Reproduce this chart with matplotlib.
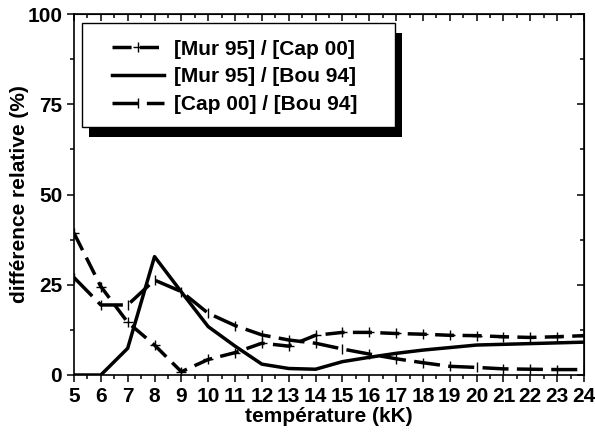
import matplotlib

matplotlib.use("Agg")
import matplotlib.pyplot as plt
import matplotlib.patches as patches
import matplotlib.patheffects as pe
from matplotlib.ticker import MultipleLocator

plt.rcParams["font.family"] = "Liberation Sans"
plt.rcParams["font.weight"] = "bold"
fontsize = 15

# Data
temperature = [5, 6, 7, 8, 9, 10, 11, 12, 13, 14, 15, 16, 17, 18, 19, 20, 21, 22, 23, 24]
mur_cap = [39.3, 24.5, 14.6, 8.3, 0.9, 4.3, 6.2, 8.8, 8.0, 11.0,
           11.8, 11.8, 11.5, 11.3, 11.0, 10.9, 10.6, 10.4, 10.6, 10.9]
mur_bou = [0.0, 0.0, 7.4, 32.8, 23.0, 13.4, 8.0, 3.0, 1.8, 1.6,
           3.7, 4.9, 6.0, 6.9, 7.6, 8.3, 8.5, 8.7, 8.9, 9.1]
cap_bou = [27.0, 19.4, 19.4, 26.3, 23.1, 17.1, 13.7, 11.1, 9.7, 8.8,
           7.2, 5.8, 4.5, 3.4, 2.4, 2.1, 1.7, 1.6, 1.5, 1.5]
labels = ["[Mur 95] / [Cap 00]", "[Mur 95] / [Bou 94]", "[Cap 00] / [Bou 94]"]
x_ticks = list(range(5, 25))
y_ticks = [0, 25, 50, 75, 100]

fig = plt.figure(figsize=(5.95, 4.32), dpi=100)
ax = fig.add_axes([74 / 595, 57 / 432, 510 / 595, 361 / 432])

lw = 2.5
ax.plot(temperature, mur_cap, color="black", lw=lw, dashes=(5.5, 2.4),
        marker="+", ms=7, mew=1, label=labels[0])
ax.plot(temperature, mur_bou, color="black", lw=lw, label=labels[1])
ax.plot(temperature, cap_bou, color="black", lw=lw, dashes=(7.5, 2.4),
        marker="|", ms=7, mew=1, label=labels[2])

ax.set_xlim(5, 24)
ax.set_ylim(0, 100)
ax.set_xticks(x_ticks)
ax.set_yticks(y_ticks)
ax.xaxis.set_minor_locator(MultipleLocator(0.5))
ax.yaxis.set_minor_locator(MultipleLocator(12.5))
ax.tick_params(which="both", direction="out", top=False, right=False,
               labelsize=fontsize, width=1.1)
ax.tick_params(which="major", length=5)
ax.tick_params(which="minor", length=3)
for s in ax.spines.values():
    s.set_linewidth(1.2)

# inward ticks on top and right
top = ax.secondary_xaxis("top")
top.set_xticks(x_ticks)
top.xaxis.set_minor_locator(MultipleLocator(0.5))
top.tick_params(which="both", direction="in", labeltop=False, width=1.1)
top.tick_params(which="major", length=5)
top.tick_params(which="minor", length=3)
right = ax.secondary_yaxis("right")
right.set_yticks(y_ticks)
right.yaxis.set_minor_locator(MultipleLocator(12.5))
right.tick_params(which="both", direction="in", labelright=False, width=1.1)
right.tick_params(which="major", length=5)
right.tick_params(which="minor", length=3)

ax.set_xlabel("température (kK)", fontsize=fontsize, fontweight="bold", labelpad=1)
ax.set_ylabel("différence relative (%)", fontsize=fontsize, fontweight="bold", labelpad=-1)

# legend box with solid black shadow
box = patches.Rectangle((0.0157, 0.687), 0.613, 0.288, transform=ax.transAxes,
                        facecolor="white", edgecolor="black", lw=1, zorder=5)
box.set_path_effects([pe.SimplePatchShadow(offset=(5, -7), shadow_rgbFace="black", alpha=1),
                      pe.Normal()])
ax.add_patch(box)

leg = ax.legend(loc="center left", bbox_to_anchor=(0.0745, 0.8255), frameon=False,
                borderpad=0, borderaxespad=0, handlelength=2.5, handletextpad=0.5,
                labelspacing=0.42, prop={"size": fontsize, "weight": "bold"})
leg.set_zorder(6)

fig.savefig("out.png", dpi=100)
